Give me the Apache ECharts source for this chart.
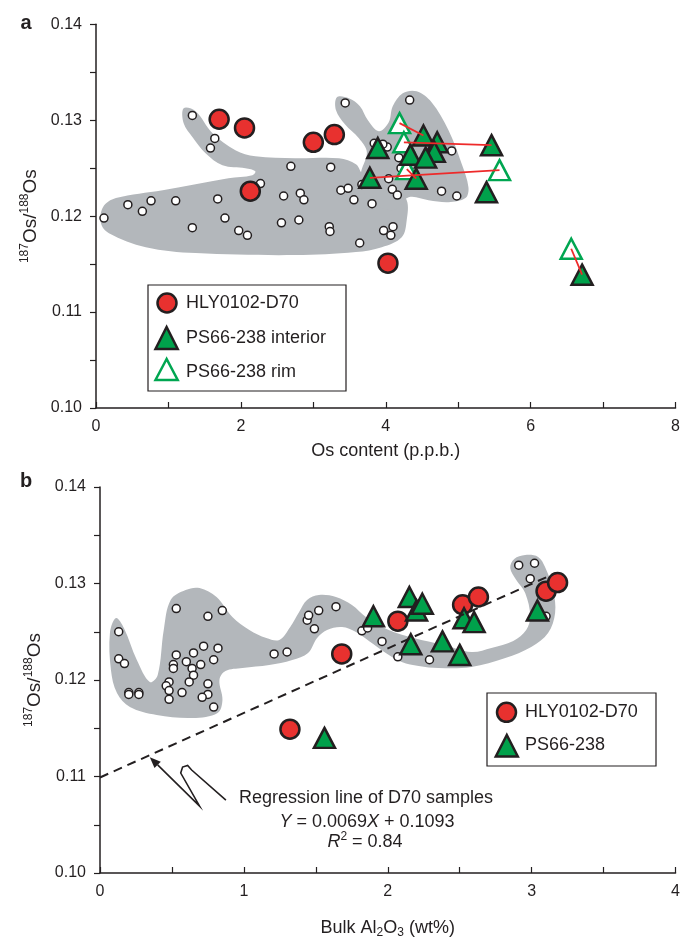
<!DOCTYPE html>
<html><head><meta charset="utf-8">
<script src="https://cdn.jsdelivr.net/npm/echarts@6/dist/echarts.min.js"></script>
<style>html,body{margin:0;padding:0;background:#fff}#c{width:683px;height:940px}</style>
</head><body><div id="c"></div>
<script>
const FONT = '"Liberation Sans", Arial, Helvetica, sans-serif';
const INK = '#231f20';
const RED = '#e8312f';
const GREEN = '#00a14b';
const GREY = '#b3b7bb';

// ---------- Panel a : Os content vs 187Os/188Os ----------
const aHLY = [[1.70,0.1301],[2.05,0.1292],[2.13,0.1226],[3.00,0.1277],[3.29,0.1285],[4.03,0.1151]];
const aInterior = [[4.52,0.1284],[4.71,0.1277],[4.67,0.1267],[3.89,0.1271],[4.34,0.1264],[4.55,0.1261],
  [4.42,0.1239],[3.78,0.1240],[5.46,0.1274],[5.39,0.1225],[6.71,0.1139]];
const aRim = [[4.19,0.1297],[4.25,0.1277],[4.29,0.1249],[5.57,0.1248],[6.56,0.1166]];
const aPairs = [[0,0],[1,8],[2,6],[3,7],[4,10]]; // rim index -> interior index
const aOther = [[1.33,0.1305],[1.64,0.1281],[1.58,0.1271],[2.69,0.1252],[2.27,0.1234],[2.59,0.1221],
  [1.68,0.1218],[1.10,0.1216],[0.76,0.1216],[0.44,0.1212],[0.64,0.1205],[0.11,0.1198],[1.78,0.1198],
  [2.56,0.1193],[1.33,0.1188],[1.97,0.1185],[2.09,0.1180],[3.44,0.1318],[4.33,0.1321],[3.84,0.1276],
  [4.02,0.1272],[3.96,0.1275],[4.91,0.1268],[4.18,0.1261],[4.21,0.1250],[4.04,0.1239],[3.67,0.1233],
  [4.09,0.1228],[4.16,0.1222],[4.77,0.1226],[4.98,0.1221],[3.24,0.1251],[2.82,0.1224],[2.87,0.1217],
  [3.38,0.1227],[3.48,0.1229],[3.56,0.1217],[3.81,0.1213],[2.80,0.1196],[3.22,0.1189],[3.23,0.1184],
  [3.97,0.1185],[4.10,0.1189],[4.07,0.1180],[3.64,0.1172]];
const aField1 = [[1.210,0.13125],[1.375,0.13094],[1.608,0.12865],[1.924,0.12688],[2.199,0.12625],
  [2.749,0.12604],[3.354,0.12604],[3.588,0.12542],[3.698,0.12427],[4.110,0.12323],[4.289,0.12167],
  [4.289,0.11958],[4.220,0.11781],[3.945,0.11677],[3.588,0.11625],[2.749,0.11594],[1.375,0.11615],
  [0.687,0.11677],[0.179,0.11823],[0.069,0.11927],[0.096,0.12094],[0.275,0.12188],[0.921,0.12271],
  [1.828,0.12396],[2.158,0.12427],[2.199,0.12469],[2.062,0.12500],[1.746,0.12531],[1.512,0.12656],
  [1.333,0.12823],[1.210,0.12969]];
const aField2 = [[3.326,0.13240],[3.491,0.13229],[3.643,0.13146],[3.753,0.13000],[3.904,0.12885],
  [4.041,0.12979],[4.096,0.13146],[4.234,0.13281],[4.426,0.13302],[4.632,0.13188],[4.866,0.12896],
  [5.045,0.12552],[5.141,0.12302],[5.100,0.12188],[4.866,0.12146],[4.591,0.12167],[4.316,0.12198],
  [4.110,0.12063],[3.766,0.12167],[3.656,0.12427],[3.739,0.12667],[3.629,0.12813],[3.436,0.12958],
  [3.313,0.13104]];

// ---------- Panel b : Bulk Al2O3 vs 187Os/188Os ----------
const bHLY = [[1.32,0.1149],[1.68,0.1227],[2.07,0.1261],[2.52,0.1278],[2.63,0.1286],[3.10,0.1292],[3.18,0.1301]];
const bPS = [[1.56,0.1140],[1.90,0.1266],[2.15,0.1286],[2.20,0.1272],[2.24,0.1279],[2.16,0.1237],
  [2.38,0.1240],[2.53,0.1264],[2.60,0.1260],[2.50,0.1226],[3.04,0.1272]];
const bOther = [[0.53,0.1274],[0.75,0.1266],[0.85,0.1272],[0.13,0.1250],[0.13,0.1222],[0.17,0.1217],
  [0.20,0.1187],[0.20,0.1185],[0.27,0.1187],[0.27,0.1185],[0.53,0.1226],[0.51,0.1216],[0.51,0.1212],
  [0.60,0.1219],[0.65,0.1228],[0.64,0.1212],[0.65,0.1205],[0.70,0.1216],[0.72,0.1235],[0.82,0.1233],
  [0.79,0.1221],[0.62,0.1198],[0.48,0.1198],[0.46,0.1194],[0.48,0.1189],[0.48,0.1180],[0.57,0.1187],
  [0.75,0.1196],[0.75,0.1185],[0.71,0.1182],[0.79,0.1172],[1.21,0.1227],[1.30,0.1229],[1.44,0.1262],
  [1.45,0.1267],[1.52,0.1272],[1.64,0.1276],[1.49,0.1253],[1.82,0.1251],[1.86,0.1254],[1.96,0.1240],
  [2.07,0.1224],[2.29,0.1221],[2.91,0.1319],[3.02,0.1321],[2.99,0.1305],[3.10,0.1266]];
const bField = [[0.111,0.12642],[0.166,0.12539],[0.256,0.12207],[0.346,0.11979],[0.401,0.12052],
  [0.443,0.12518],[0.491,0.12829],[0.595,0.12933],[0.692,0.12953],[0.810,0.12860],[0.920,0.12653],
  [1.038,0.12518],[1.156,0.12435],[1.246,0.12415],[1.322,0.12549],[1.384,0.12705],[1.439,0.12829],
  [1.522,0.12881],[1.640,0.12860],[1.751,0.12777],[1.848,0.12653],[2.007,0.12518],[2.180,0.12435],
  [2.388,0.12363],[2.581,0.12290],[2.720,0.12332],[2.872,0.12404],[2.962,0.12518],[2.990,0.12663],
  [2.955,0.12902],[2.893,0.13036],[2.851,0.13161],[2.879,0.13254],[2.955,0.13295],[3.045,0.13275],
  [3.093,0.13171],[3.149,0.12933],[3.163,0.12694],[3.114,0.12487],[2.997,0.12342],[2.817,0.12228],
  [2.581,0.12135],[2.353,0.12124],[2.215,0.12145],[2.097,0.12187],[1.986,0.12280],[1.869,0.12404],
  [1.779,0.12497],[1.682,0.12549],[1.578,0.12518],[1.509,0.12435],[1.446,0.12280],[1.336,0.12207],
  [1.176,0.12155],[0.990,0.12124],[0.872,0.12093],[0.830,0.12000],[0.851,0.11793],[0.817,0.11658],
  [0.644,0.11606],[0.394,0.11637],[0.208,0.11720],[0.118,0.11865],[0.076,0.12104],[0.069,0.12487]];
const bRegression = [[0,0.1099],[3.17,0.1311]];
const bArrowPath = [[0.875,0.10756],[0.637,0.11067],[0.609,0.11114],[0.574,0.11098],[0.561,0.11036],
  [0.692,0.10694],[0.346,0.11200]];

// tick labels
const aXTicks = ['0','2','4','6','8'];
const bXTicks = ['0','1','2','3','4'];
const yTicks = ['0.10','0.11','0.12','0.13','0.14'];

const chart = echarts.init(document.getElementById('c'), null, {renderer:'canvas'});

function fieldSeries(pts, gi){
  return {type:'custom', xAxisIndex:gi, yAxisIndex:gi, z:1, silent:true, clip:false,
    data:[pts[0]],
    renderItem:(p, api)=>({type:'polygon',
      shape:{points: pts.map(q=>api.coord(q)), smooth:0.35},
      style:{fill:GREY, stroke:null}})};
}
function scatter(name, data, gi, sym, size, fill, stroke, bw, z){
  return {name, type:'scatter', xAxisIndex:gi, yAxisIndex:gi, data, symbol:sym, symbolSize:size, z,
    itemStyle:{color:fill, borderColor:stroke, borderWidth:bw, opacity:1}, silent:true};
}
const axisCommon = {
  axisLine:{show:true, onZero:false, lineStyle:{color:INK, width:1.5}},
  splitLine:{show:false},
};
function yAxisDef(gi){
  return Object.assign({type:'value', gridIndex:gi, min:0.10, max:0.14, interval:0.005,
    axisTick:{show:true, inside:false, length:6, lineStyle:{color:INK, width:1.2}},
    axisLabel:{margin:14, color:INK, fontSize:16, fontFamily:FONT, hideOverlap:false,
      formatter:v=>{const k=Math.round(v*1000); return k%10===0 ? yTicks[(k-100)/10] : '';}},
    name:'{sup|187}{os|Os/}{sup|188}{os|Os}', nameLocation:'middle', nameRotate:90, nameGap:52,
    nameTextStyle:{color:INK, fontFamily:FONT, rich:{
      sup:{fontSize:12, fontFamily:FONT, color:INK, padding:[0,0,12,0]},
      os:{fontSize:19, fontFamily:FONT, color:INK}}}
  }, axisCommon);
}

const option = {
  animation:false,
  backgroundColor:'#fff',
  grid:[{left:96, top:24.3, width:582, height:383.7},{left:100, top:487, width:578, height:386}],
  xAxis:[
    Object.assign({type:'value', gridIndex:0, min:0, max:8, interval:1,
      axisTick:{show:true, inside:true, length:6, lineStyle:{color:INK, width:1.2}},
      axisLabel:{margin:11, color:INK, fontSize:16, fontFamily:FONT, hideOverlap:false,
        formatter:v=> v%2===0 ? aXTicks[v/2] : ''},
      name:'Os content (p.p.b.)', nameLocation:'middle', nameGap:34,
      nameTextStyle:{color:INK, fontSize:18, fontFamily:FONT}}, axisCommon),
    Object.assign({type:'value', gridIndex:1, min:0, max:4, interval:0.5,
      axisTick:{show:true, inside:true, length:6, lineStyle:{color:INK, width:1.2}},
      axisLabel:{margin:11, color:INK, fontSize:16, fontFamily:FONT, hideOverlap:false,
        formatter:v=> Number.isInteger(v) ? bXTicks[v] : ''},
      name:'{n|Bulk Al}{sub|2}{n|O}{sub|3}{n| (wt%)}', nameLocation:'middle', nameGap:44,
      nameTextStyle:{color:INK, fontFamily:FONT, rich:{
        n:{fontSize:18, fontFamily:FONT, color:INK},
        sub:{fontSize:12, fontFamily:FONT, color:INK, padding:[10,0,0,0]}}}}, axisCommon)
  ],
  yAxis:[yAxisDef(0), yAxisDef(1)],
  series:[
    fieldSeries(aField1,0), fieldSeries(aField2,0),
    scatter('other a', aOther, 0, 'circle', 8, '#fff', INK, 1.5, 2),
    scatter('HLY0102-D70', aHLY, 0, 'circle', 19, RED, INK, 2.5, 3),
    scatter('PS66-238 rim', aRim, 0, 'triangle', [21,20], '#fff', '#00a651', 2.5, 3),
    scatter('PS66-238 interior', aInterior, 0, 'triangle', [21,20], GREEN, INK, 2.5, 4),
    {type:'lines', coordinateSystem:'cartesian2d', xAxisIndex:0, yAxisIndex:0, z:5, silent:true,
      data: aPairs.map(([r,i])=>({coords:[aRim[r], aInterior[i]]})),
      lineStyle:{color:'#ee2a2a', width:1.8, opacity:1}},
    fieldSeries(bField,1),
    scatter('other b', bOther, 1, 'circle', 8, '#fff', INK, 1.5, 2),
    scatter('HLY0102-D70 b', bHLY, 1, 'circle', 19, RED, INK, 2.5, 3),
    scatter('PS66-238', bPS, 1, 'triangle', [21,20], GREEN, INK, 2.5, 4),
    {type:'line', xAxisIndex:1, yAxisIndex:1, data:bRegression, symbol:'none', z:6, silent:true,
      lineStyle:{color:INK, width:2, type:[9,6]}},
    {type:'custom', xAxisIndex:1, yAxisIndex:1, z:7, silent:true, clip:false, data:[bArrowPath[0]],
      renderItem:(p, api)=>{
        const pts = bArrowPath.map(q=>api.coord(q));
        const n = pts.length, tip = pts[n-1], prev = pts[n-2];
        const dx = tip[0]-prev[0], dy = tip[1]-prev[1], L = Math.hypot(dx,dy);
        const ux = dx/L, uy = dy/L, hl = 11, hw = 4.5;
        const base = [tip[0]-ux*hl, tip[1]-uy*hl];
        return {type:'group', children:[
          {type:'polyline', shape:{points: pts.slice(0,n-1).concat([base])},
            style:{stroke:INK, lineWidth:1.6, fill:'none'}},
          {type:'polygon', shape:{points:[tip,[base[0]-uy*hw, base[1]+ux*hw],[base[0]+uy*hw, base[1]-ux*hw]]},
            style:{fill:INK}}
        ]};
      }}
  ],
  graphic:[
    {type:'text', x:26, y:23, style:{text:'a', font:'bold 20px '+FONT, fill:INK, align:'center', verticalAlign:'middle', textAlign:'center', textVerticalAlign:'middle'}},
    {type:'text', x:26, y:481, style:{text:'b', font:'bold 20px '+FONT, fill:INK, align:'center', verticalAlign:'middle', textAlign:'center', textVerticalAlign:'middle'}},
    // legend a
    {type:'rect', shape:{x:148, y:285, width:198, height:106}, style:{fill:'#fff', stroke:INK, lineWidth:1.2}, z:10},
    {type:'circle', shape:{cx:167, cy:303, r:9.5}, style:{fill:RED, stroke:INK, lineWidth:2.5}, z:11},
    {type:'polygon', shape:{points:[[166.6,327],[155.5,349],[177.7,349]]}, style:{fill:GREEN, stroke:INK, lineWidth:2.5}, z:11},
    {type:'polygon', shape:{points:[[166.6,359],[155.5,380],[177.7,380]]}, style:{fill:'#fff', stroke:'#00a651', lineWidth:2.5}, z:11},
    {type:'text', x:186, y:303, z:11, style:{text:'HLY0102-D70', font:'18px '+FONT, fill:INK, verticalAlign:'middle', textVerticalAlign:'middle'}},
    {type:'text', x:186, y:338, z:11, style:{text:'PS66-238 interior', font:'18px '+FONT, fill:INK, verticalAlign:'middle', textVerticalAlign:'middle'}},
    {type:'text', x:186, y:372, z:11, style:{text:'PS66-238 rim', font:'18px '+FONT, fill:INK, verticalAlign:'middle', textVerticalAlign:'middle'}},
    // legend b
    {type:'rect', shape:{x:487, y:693, width:169, height:73}, style:{fill:'#fff', stroke:INK, lineWidth:1.2}, z:10},
    {type:'circle', shape:{cx:506.5, cy:712.3, r:9.5}, style:{fill:RED, stroke:INK, lineWidth:2.5}, z:11},
    {type:'polygon', shape:{points:[[506.8,735],[495.8,756.5],[517.8,756.5]]}, style:{fill:GREEN, stroke:INK, lineWidth:2.5}, z:11},
    {type:'text', x:525, y:712.5, z:11, style:{text:'HLY0102-D70', font:'18px '+FONT, fill:INK, verticalAlign:'middle', textVerticalAlign:'middle'}},
    {type:'text', x:525, y:745, z:11, style:{text:'PS66-238', font:'18px '+FONT, fill:INK, verticalAlign:'middle', textVerticalAlign:'middle'}},
    // regression annotation
    {type:'text', x:366, y:798, z:11, style:{text:'Regression line of D70 samples', font:'18px '+FONT, fill:INK, align:'center', verticalAlign:'middle', textAlign:'center', textVerticalAlign:'middle'}},
    {type:'text', x:367, y:822, z:11, style:{text:'{i|Y}{n| = 0.0069}{i|X}{n| + 0.1093}', fill:INK, align:'center', verticalAlign:'middle', textAlign:'center', textVerticalAlign:'middle',
      rich:{i:{font:'italic 18px '+FONT, fill:INK}, n:{font:'18px '+FONT, fill:INK}}}},
    {type:'text', x:365, y:842, z:11, style:{text:'{i|R}{sup|2}{n| = 0.84}', fill:INK, align:'center', verticalAlign:'middle', textAlign:'center', textVerticalAlign:'middle',
      rich:{i:{font:'italic 18px '+FONT, fill:INK}, sup:{font:'12px '+FONT, fill:INK, padding:[0,0,10,0]}, n:{font:'18px '+FONT, fill:INK}}}}
  ]
};
chart.setOption(option);
</script></body></html>
